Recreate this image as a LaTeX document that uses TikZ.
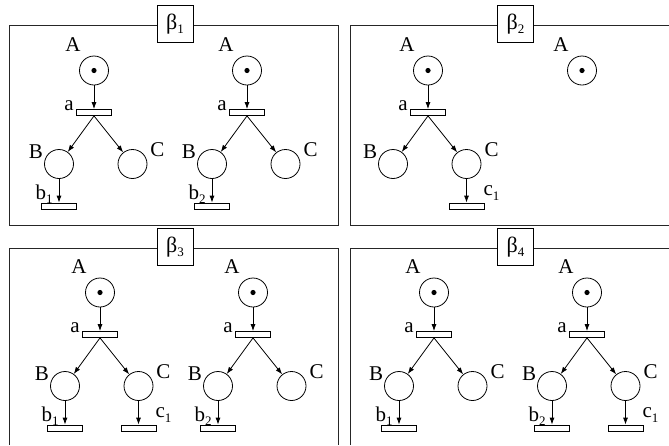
\documentclass[tikz,border=0pt]{standalone}
\usepackage{fontspec}
\setmainfont{Liberation Serif}
\usetikzlibrary{arrows.meta}
\newcommand\sbs[1]{\raisebox{-4.5pt}{\fontsize{13}{13}\selectfont #1}}
\tikzset{
  place/.style={circle, draw, line width=0.8pt, minimum size=29pt, inner sep=0pt},
  trans/.style={rectangle, draw, line width=0.8pt, minimum width=35pt, minimum height=6pt, inner sep=0pt},
  lbl/.style={inner sep=0pt, font=\fontsize{21}{21}\selectfont},
  arc/.style={line width=0.8pt, -{Latex[length=7pt,width=5pt]}},
  frame/.style={line width=1pt, draw=black!85},
  tagbox/.style={draw, fill=white, line width=1pt, minimum width=36pt, minimum height=37.5pt, inner sep=0pt, font=\fontsize{22}{22}\selectfont}
}
\newcommand\netABC[3]{%
\begin{scope}[shift={(#2,#3)}]
\node[place] (#1A) at (0,0) {};
\fill (#1A.center) circle (2.6);
\node[lbl] (#1Al) at (-21,-26) {A};
\node[trans] (#1a) at (0,42) {};
\node[lbl] (#1al) at (-25,35) {a};
\node[place] (#1B) at (-35,93.5) {};
\node[lbl] (#1Bl) at (-58,81.5) {B};
\node[place] (#1C) at (38.5,93.5) {};
\node[lbl] (#1Cl) at (63.5,79.5) {C};
\draw[arc] (#1A) -- (#1a);
\draw[arc] (#1a.south) -- (#1B);
\draw[arc] (#1a.south) -- (#1C);
\end{scope}}
\newcommand\bsink[2]{%
\path (#1B) ++(0,42) node[trans] (#1b) {};
\path (#1b) ++(-15,-12) node[lbl] (#1bl) {b\sbs{#2}};
\draw[arc] (#1B) -- (#1b);}
\newcommand\csink[2]{%
\path (#1C) ++(0,42) node[trans] (#1c) {};
\path (#1c) ++(25,-13) node[lbl] (#1cl) {c\sbs{#2}};
\draw[arc] (#1C) -- (#1c);}
\begin{document}
\begin{tikzpicture}[x=1pt,y=-1pt]
\useasboundingbox (0,0) rectangle (669,445);
% frames
\draw[frame] (9.5,25) rectangle (338,225);
\draw[frame] (669,25) -- (350,25) -- (350,225) -- (669,225);
\draw[frame] (9.5,445) -- (9.5,248) -- (338,248) -- (338,445);
\draw[frame] (350,445) -- (350,248) -- (669,248);
\node[tagbox] (t1) at (175,24) {β\sbs{1}};
\node[tagbox] (t2) at (515.5,24) {β\sbs{2}};
\node[tagbox] (t3) at (175,247) {β\sbs{3}};
\node[tagbox] (t4) at (515.5,247) {β\sbs{4}};
% beta 1
\netABC{p}{94}{70.5}
\bsink{p}{1}
\netABC{q}{247}{70.5}
\bsink{q}{2}
% beta 2
\netABC{r}{428}{70.5}
\csink{r}{1}
\node[place] (sA) at (582,70.5) {};
\fill (sA.center) circle (2.6);
\node[lbl] (sAl) at (561,44.5) {A};
% beta 3
\netABC{u}{100}{292.5}
\bsink{u}{1}
\csink{u}{1}
\netABC{v}{253}{292.5}
\bsink{v}{2}
% beta 4
\netABC{w}{434}{292.5}
\bsink{w}{1}
\netABC{z}{587}{292.5}
\bsink{z}{2}
\csink{z}{1}
\end{tikzpicture}
\end{document}
